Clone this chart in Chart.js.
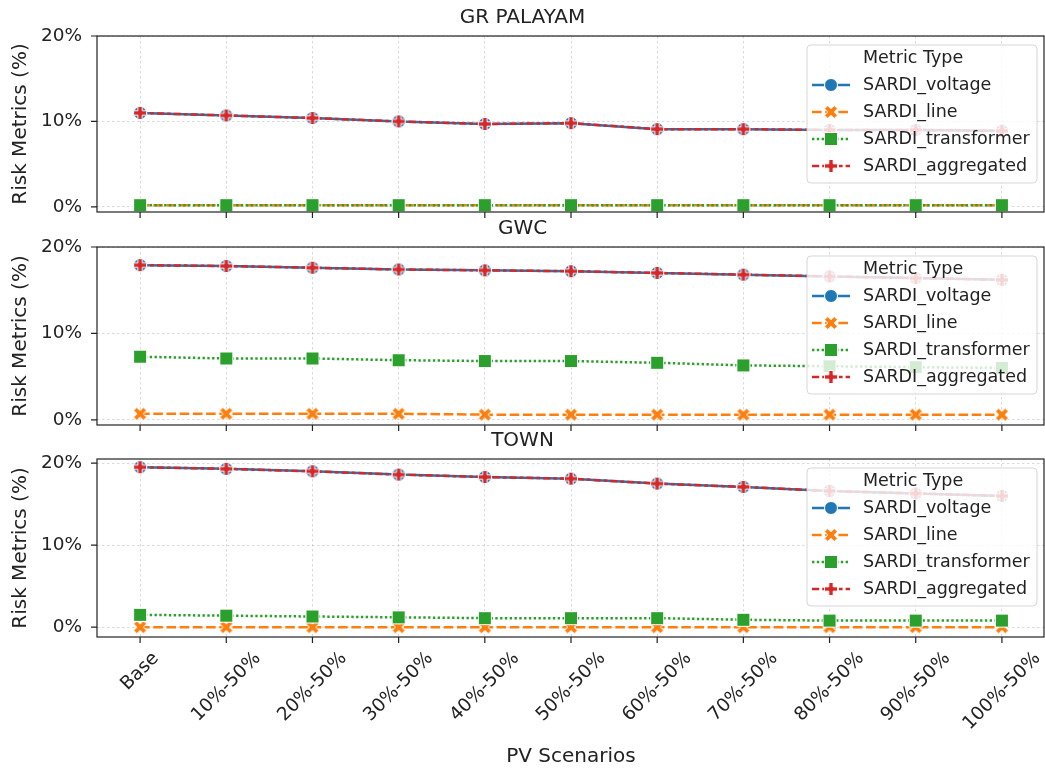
<!DOCTYPE html>
<html>
<head>
<meta charset="utf-8">
<script src="https://cdn.jsdelivr.net/npm/chart.js@4.4.0/dist/chart.umd.min.js"></script>
<style>
  html, body { margin: 0; padding: 0; background: #fff; overflow: hidden; width: 1045px; height: 770px; }
  canvas { position: absolute; left: 0; }
</style>
</head>
<body>
<canvas id="c1" width="1045" height="219" style="top:0px"></canvas>
<canvas id="c2" width="1045" height="221" style="top:211px"></canvas>
<canvas id="c3" width="1045" height="347" style="top:423px"></canvas>
<script>
const scenarios = ['Base', '10%-50%', '20%-50%', '30%-50%', '40%-50%', '50%-50%', '60%-50%', '70%-50%', '80%-50%', '90%-50%', '100%-50%'];
const metrics = ['SARDI_voltage', 'SARDI_line', 'SARDI_transformer', 'SARDI_aggregated'];
const panelTitles = ['GR PALAYAM', 'GWC', 'TOWN'];
const yTickValues = [0, 10, 20];
const yMins = [-0.6, -0.6, -1.2];
const yMaxs = [20, 20, 20.5];

// GR PALAYAM
const grVoltage = [11.0, 10.7, 10.4, 10.0, 9.7, 9.8, 9.1, 9.1, 9.0, 9.0, 8.9];
const grLine = [0.2, 0.2, 0.2, 0.2, 0.2, 0.2, 0.2, 0.2, 0.2, 0.2, 0.2];
const grTransformer = [0.2, 0.2, 0.2, 0.2, 0.2, 0.2, 0.2, 0.2, 0.2, 0.2, 0.2];
const grAggregated = [11.0, 10.7, 10.4, 10.0, 9.7, 9.8, 9.1, 9.1, 9.0, 9.0, 8.9];

// GWC
const gwcVoltage = [17.9, 17.8, 17.6, 17.4, 17.3, 17.2, 17.0, 16.8, 16.6, 16.4, 16.2];
const gwcLine = [0.7, 0.7, 0.7, 0.7, 0.6, 0.6, 0.6, 0.6, 0.6, 0.6, 0.6];
const gwcTransformer = [7.3, 7.1, 7.1, 6.9, 6.8, 6.8, 6.6, 6.3, 6.2, 6.1, 6.0];
const gwcAggregated = [17.9, 17.8, 17.6, 17.4, 17.3, 17.2, 17.0, 16.8, 16.6, 16.4, 16.2];

// TOWN
const townVoltage = [19.5, 19.3, 19.0, 18.6, 18.3, 18.1, 17.5, 17.1, 16.6, 16.3, 16.0];
const townLine = [0.0, 0.0, 0.0, 0.0, 0.0, 0.0, 0.0, 0.0, 0.0, 0.0, 0.0];
const townTransformer = [1.5, 1.4, 1.3, 1.2, 1.1, 1.1, 1.1, 0.9, 0.8, 0.8, 0.8];
const townAggregated = [19.5, 19.3, 19.0, 18.6, 18.3, 18.1, 17.5, 17.1, 16.6, 16.3, 16.0];

const colors = ['#1f77b4', '#ff7f0e', '#2ca02c', '#d62728'];
const dashes = [[], [9.6, 3.6], [2.4, 2.4], [7.2, 3, 3.6, 3]];
const markerKinds = ['circle', 'x', 'square', 'plus'];
const textColor = '#222';
const gridColor = 'rgba(150,150,150,0.35)';

Chart.defaults.font.family = "'DejaVu Sans', sans-serif";
Chart.defaults.color = textColor;

// seaborn style filled markers with white edge
function makeMarker(kind, color, size) {
  const s = 18;
  const c = document.createElement('canvas');
  c.width = s; c.height = s;
  const ctx = c.getContext('2d');
  ctx.translate(s / 2, s / 2);
  ctx.beginPath();
  if (kind === 'circle') {
    ctx.arc(0, 0, size / 2, 0, Math.PI * 2);
  } else if (kind === 'square') {
    ctx.rect(-size / 2, -size / 2, size, size);
  } else {
    let pts;
    if (kind === 'x') {
      pts = [[-1, -2], [0, -1], [1, -2], [2, -1], [1, 0], [2, 1], [1, 2], [0, 1], [-1, 2], [-2, 1], [-1, 0], [-2, -1]].map(p => [p[0] / 4, p[1] / 4]);
    } else {
      pts = [[-1, -3], [1, -3], [1, -1], [3, -1], [3, 1], [1, 1], [1, 3], [-1, 3], [-1, 1], [-3, 1], [-3, -1], [-1, -1]].map(p => [p[0] / 6, p[1] / 6]);
    }
    pts.forEach((p, i) => i ? ctx.lineTo(p[0] * size, p[1] * size) : ctx.moveTo(p[0] * size, p[1] * size));
    ctx.closePath();
  }
  ctx.fillStyle = color;
  ctx.fill();
  ctx.strokeStyle = '#fff';
  ctx.lineWidth = 1;
  ctx.stroke();
  return c;
}
const markerImgs = markerKinds.map((k, i) => makeMarker(k, colors[i], 13));

// spines, tick marks, legend box, rotated x labels
const framePlugin = {
  id: 'frame',
  afterDraw(chart) {
    const ctx = chart.ctx;
    const a = chart.chartArea;
    const xs = chart.scales.x, ys = chart.scales.y;
    ctx.save();
    ctx.strokeStyle = textColor;
    ctx.lineWidth = 1.2;
    ctx.setLineDash([]);
    ctx.strokeRect(a.left, a.top, a.right - a.left - 1, a.bottom - a.top);
    ctx.beginPath();
    scenarios.forEach((s, i) => {
      const x = xs.getPixelForValue(i);
      ctx.moveTo(x, a.bottom); ctx.lineTo(x, a.bottom + 6);
    });
    yTickValues.forEach(v => {
      const y = ys.getPixelForValue(v);
      ctx.moveTo(a.left - 6, y); ctx.lineTo(a.left, y);
    });
    ctx.stroke();

    // legend
    const lw = 230, lh = 138;
    const lx = a.right - 8 - lw, ly = a.top + 9;
    ctx.beginPath();
    ctx.roundRect(lx, ly, lw, lh, 4);
    ctx.fillStyle = 'rgba(255,255,255,0.8)';
    ctx.fill();
    ctx.strokeStyle = 'rgba(204,204,204,0.8)';
    ctx.lineWidth = 1;
    ctx.stroke();
    ctx.font = "17.5px 'DejaVu Sans'";
    ctx.fillStyle = textColor;
    ctx.textBaseline = 'middle';
    ctx.textAlign = 'left';
    ctx.fillText('Metric Type', lx + 56, ly + 13);
    metrics.forEach((m, k) => {
      const ry = ly + 40 + k * 27;
      ctx.beginPath();
      ctx.setLineDash(dashes[k]);
      ctx.strokeStyle = colors[k];
      ctx.lineWidth = 2.4;
      ctx.moveTo(lx + 5, ry); ctx.lineTo(lx + 43, ry);
      ctx.stroke();
      ctx.setLineDash([]);
      ctx.drawImage(markerImgs[k], lx + 24 - 9, ry - 9);
      ctx.fillStyle = textColor;
      ctx.fillText(m, lx + 56, ry);
    });

    // rotated category labels on the bottom panel
    if (chart.options.plugins.frame && chart.options.plugins.frame.xLabels) {
      const fs = 18.5;
      ctx.font = fs + "px 'DejaVu Sans'";
      ctx.fillStyle = textColor;
      ctx.textAlign = 'center';
      ctx.textBaseline = 'middle';
      scenarios.forEach((s, i) => {
        const x = xs.getPixelForValue(i);
        const w = ctx.measureText(s).width;
        const H = (w + fs) / Math.SQRT2;
        ctx.save();
        ctx.translate(x, a.bottom + 12 + H / 2);
        ctx.rotate(-Math.PI / 4);
        ctx.fillText(s, 0, 0);
        ctx.restore();
      });
    }
    ctx.restore();
  }
};

function makePanel(id, idx, series, isBottom) {
  const datasets = metrics.map((name, k) => ({
    label: name,
    data: series[k],
    borderColor: colors[k],
    backgroundColor: colors[k],
    borderWidth: 2.5,
    borderDash: dashes[k],
    pointStyle: markerImgs[k],
    pointRadius: 6,
    pointHoverRadius: 6,
    tension: 0,
    fill: false,
    order: 4 - k
  }));
  return new Chart(document.getElementById(id), {
    type: 'line',
    data: { labels: scenarios, datasets: datasets },
    options: {
      responsive: false,
      animation: false,
      layout: { padding: 0, autoPadding: false },
      plugins: {
        legend: { display: false },
        tooltip: { enabled: false },
        title: {
          display: true,
          text: panelTitles[idx],
          font: { size: 20, weight: 'normal' },
          color: textColor,
          padding: { top: 6, bottom: 6 }
        },
        frame: { xLabels: isBottom }
      },
      scales: {
        x: {
          type: 'category',
          offset: true,
          grid: { color: gridColor, lineWidth: 1, drawTicks: false, offset: false, borderDash: [2.5, 2.5] },
          border: { display: false, dash: [2.5, 2.5] },
          ticks: { display: false },
          title: {
            display: isBottom,
            text: 'PV Scenarios',
            font: { size: 20 },
            color: textColor,
            padding: { top: 0, bottom: 1 }
          },
          afterFit: s => { s.height = isBottom ? 133 : 7; }
        },
        y: {
          min: yMins[idx],
          max: yMaxs[idx],
          bounds: 'data',
          afterBuildTicks: s => { s.ticks = yTickValues.map(v => ({ value: v })); },
          grid: { color: gridColor, lineWidth: 1, drawTicks: false, borderDash: [2.5, 2.5] },
          border: { display: false, dash: [2.5, 2.5] },
          ticks: {
            callback: v => v + '%',
            font: { size: 18.5 },
            color: textColor,
            padding: 15
          },
          title: {
            display: true,
            text: 'Risk Metrics (%)',
            font: { size: 20 },
            color: textColor,
            padding: { top: 9, bottom: 0 }
          },
          afterFit: s => {
            s.width = 97;
            s.paddingTop = 0;
            s.paddingBottom = 0;
          }
        }
      }
    },
    plugins: [framePlugin]
  });
}

makePanel('c1', 0, [grVoltage, grLine, grTransformer, grAggregated], false);
makePanel('c2', 1, [gwcVoltage, gwcLine, gwcTransformer, gwcAggregated], false);
makePanel('c3', 2, [townVoltage, townLine, townTransformer, townAggregated], true);
</script>
</body>
</html>
